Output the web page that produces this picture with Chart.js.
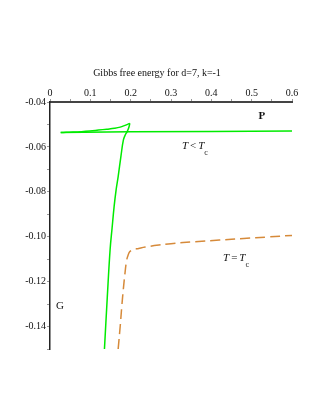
<!DOCTYPE html>
<html>
<head>
<meta charset="utf-8">
<script src="https://cdn.jsdelivr.net/npm/chart.js@4/dist/chart.umd.min.js"></script>
<style>
  html, body { margin: 0; padding: 0; background: #fff; }
  #wrap { width: 321px; height: 415px; }
</style>
</head>
<body>
<div id="wrap"><canvas id="chart"></canvas></div>
<script>
// Swallowtail, T < Tc (green)
const steepP = [0.135, 0.142, 0.149, 0.154, 0.159, 0.164, 0.169, 0.176, 0.182, 0.187, 0.191, 0.195, 0.198];
const steepG = [-0.150, -0.127, -0.1058, -0.096, -0.0865, -0.079, -0.0732, -0.064, -0.0569, -0.0545, -0.0533, -0.0516, -0.0495];
const upperP = [0.198, 0.186, 0.174, 0.160, 0.141, 0.120, 0.099, 0.078, 0.057, 0.040, 0.0265];
const upperG = [-0.0495, -0.0504, -0.0512, -0.0517, -0.0521, -0.0525, -0.0529, -0.0532, -0.0534, -0.0535, -0.0536];
const lowerP = [0.0265, 0.2, 0.4, 0.6];
const lowerG = [-0.0536, -0.0533, -0.0531, -0.0529];

// T = Tc (orange dashed)
const critP = [0.169, 0.174, 0.178, 0.182, 0.186, 0.190, 0.194, 0.198, 0.205, 0.22, 0.236, 0.27, 0.3, 0.36, 0.42, 0.48, 0.54, 0.6];
const critG = [-0.150, -0.140, -0.131, -0.123, -0.1161, -0.1105, -0.108, -0.1066, -0.1058, -0.1052, -0.1046, -0.1037, -0.1031, -0.1022, -0.1015, -0.1008, -0.1001, -0.0994];

const xTicks = [0, 0.1, 0.2, 0.3, 0.4, 0.5, 0.6];
const yTicks = [-0.04, -0.06, -0.08, -0.10, -0.12, -0.14];

const GREEN = 'rgb(0,235,0)';
const ORANGE = 'rgb(214,138,58)';
const SERIF = '"Liberation Serif", "DejaVu Serif", serif';

const toPts = (xs, ys) => xs.map((x, i) => ({ x, y: ys[i] }));
const near = (v, list) => list.some(t => Math.abs(t - v) < 1e-6);

const line = (data, color, dash, tension) => ({
  data,
  borderColor: color,
  borderWidth: 1.5,
  borderDash: dash || [],
  showLine: true,
  pointRadius: 0,
  tension: tension || 0,
  fill: false,
});

// title + in-plot labels
const labels = {
  id: 'labels',
  afterDraw(chart) {
    const { ctx, scales: { x, y } } = chart;
    ctx.save();
    ctx.fillStyle = '#111';
    ctx.textBaseline = 'middle';
    ctx.textAlign = 'center';
    ctx.font = '10px ' + SERIF;
    ctx.fillText('Gibbs free energy for d=7, k=-1', 157, 73);

    ctx.font = 'bold 11px ' + SERIF;
    ctx.fillText('P', x.getPixelForValue(0.525), y.getPixelForValue(-0.0465));
    ctx.font = '11px ' + SERIF;
    ctx.fillText('G', x.getPixelForValue(0.025), y.getPixelForValue(-0.1307));

    const tLabel = (px, py, op) => {
      ctx.textAlign = 'left';
      ctx.font = 'italic 11px ' + SERIF;
      let cx = px;
      ctx.fillText('T', cx, py); cx += ctx.measureText('T').width + 2;
      ctx.font = '11px ' + SERIF;
      ctx.fillText(op, cx, py); cx += ctx.measureText(op).width + 2;
      ctx.font = 'italic 11px ' + SERIF;
      ctx.fillText('T', cx, py); cx += ctx.measureText('T').width;
      ctx.font = '8px ' + SERIF;
      ctx.fillText('c', cx, py + 7);
    };
    tLabel(x.getPixelForValue(0.327), y.getPixelForValue(-0.0595), '<');
    tLabel(x.getPixelForValue(0.429), y.getPixelForValue(-0.1093), '=');
    ctx.restore();
  }
};

new Chart(document.getElementById('chart'), {
  type: 'scatter',
  data: {
    datasets: [
      line(toPts(steepP, steepG), GREEN, null, 0.4),
      line(toPts(upperP, upperG), GREEN, null, 0.4),
      line(toPts(lowerP, lowerG), GREEN),
      line(toPts(critP, critG), ORANGE, [10, 5], 0.4),
    ],
  },
  options: {
    responsive: true,
    maintainAspectRatio: false,
    animation: false,
    layout: { padding: { left: 0, right: 29, top: 0, bottom: 66 } },
    plugins: {
      legend: { display: false },
      tooltip: { enabled: false },
    },
    scales: {
      x: {
        type: 'linear',
        position: 'top',
        min: 0,
        max: 0.6,
        afterFit(scale) { scale.height = 102; },
        afterBuildTicks(scale) {
          scale.ticks = [];
          for (let i = 0; i <= 12; i++) scale.ticks.push({ value: +(i * 0.05).toFixed(2) });
        },
        ticks: {
          color: '#111',
          font: { family: SERIF, size: 10 },
          padding: 0,
          maxRotation: 0,
          autoSkip: false,
          callback: v => near(v, xTicks) ? String(+v.toFixed(1)) : '',
        },
        grid: {
          drawOnChartArea: false,
          drawTicks: true,
          tickLength: 3,
          color: '#999',
        },
        border: { display: true, color: '#444', width: 2 },
      },
      y: {
        type: 'linear',
        min: -0.15,
        max: -0.04,
        afterFit(scale) { scale.width = 50; },
        afterBuildTicks(scale) {
          scale.ticks = [];
          for (let i = 4; i <= 15; i++) scale.ticks.push({ value: +(-i * 0.01).toFixed(2) });
        },
        ticks: {
          color: '#111',
          font: { family: SERIF, size: 10 },
          padding: 1,
          autoSkip: false,
          callback: v => near(v, yTicks) ? v.toFixed(2) : '',
        },
        grid: {
          drawOnChartArea: false,
          drawTicks: true,
          tickLength: 3,
          color: '#999',
        },
        border: { display: true, color: '#222', width: 1.5 },
      },
    },
  },
  plugins: [labels],
});
</script>
</body>
</html>
